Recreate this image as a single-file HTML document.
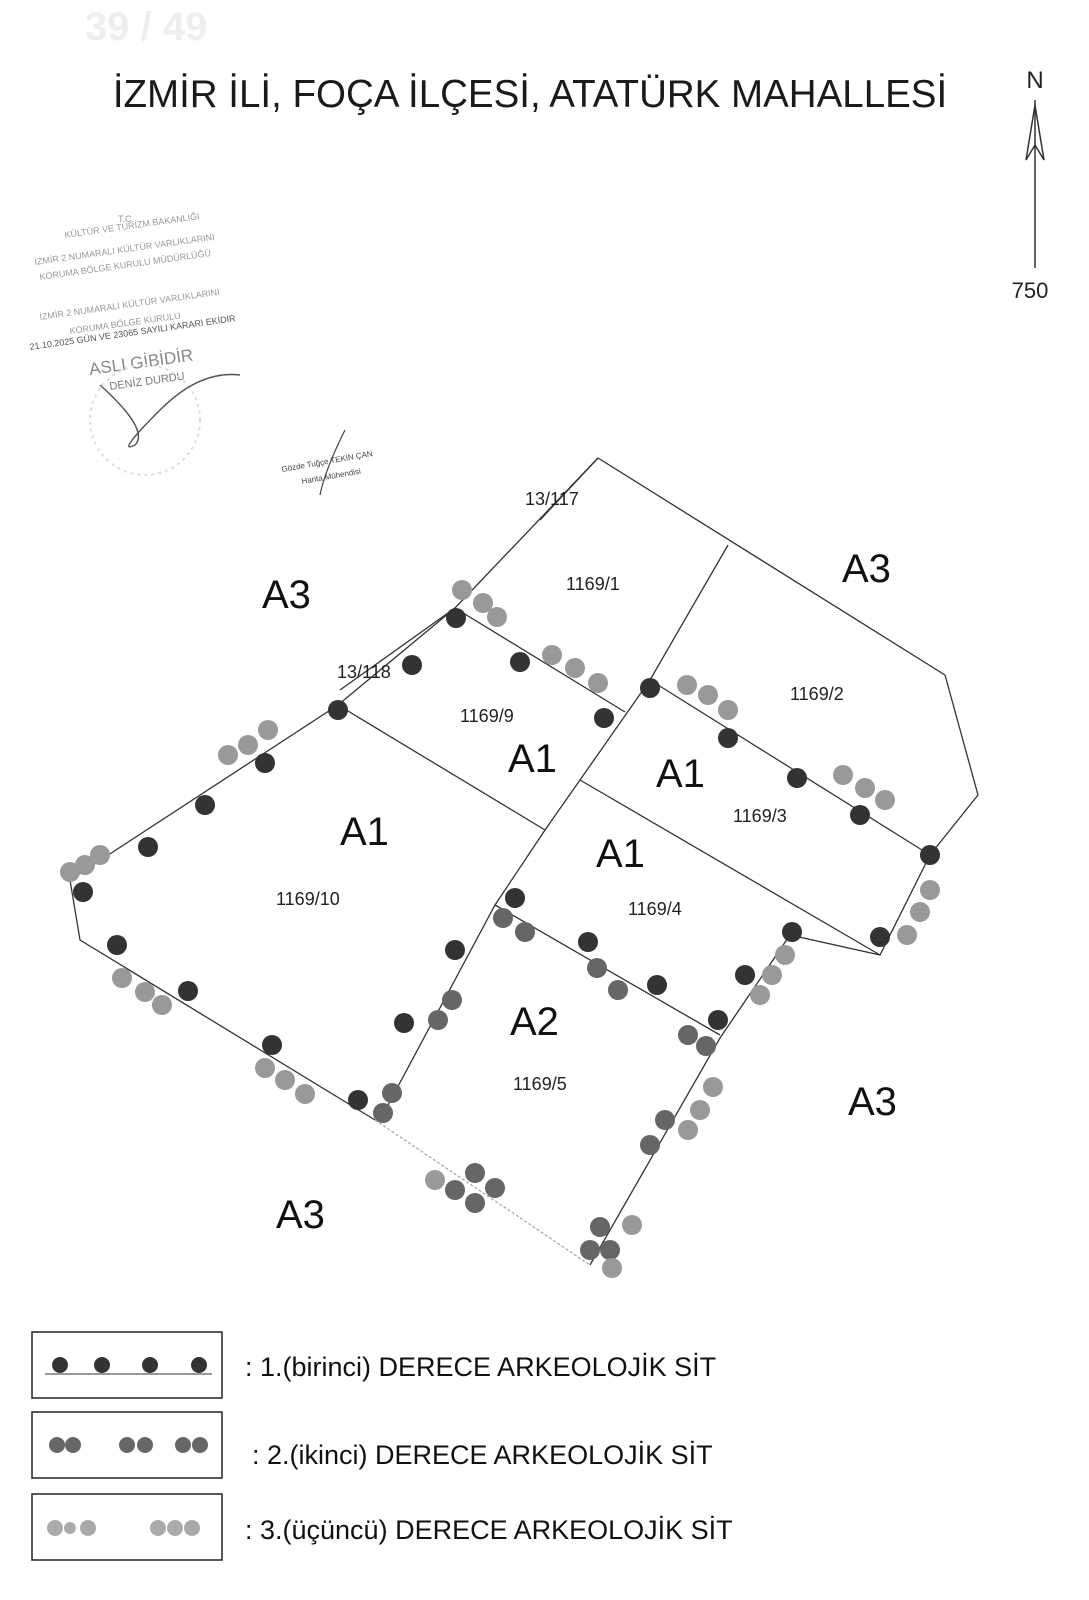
<!DOCTYPE html>
<html><head><meta charset="utf-8"><style>
html,body{margin:0;padding:0;background:#fff;}
svg{display:block;font-family:"Liberation Sans",Arial,sans-serif;}
</style></head><body>
<svg width="1089" height="1600" viewBox="0 0 1089 1600" xmlns="http://www.w3.org/2000/svg">
<rect width="1089" height="1600" fill="#fff"/>
<text x="85" y="40" font-size="40" fill="#eee" font-weight="bold">39 / 49</text>
<text x="530" y="107" font-size="38.5" text-anchor="middle" fill="#1a1a1a">İZMİR İLİ, FOÇA İLÇESİ, ATATÜRK MAHALLESİ</text>
<!-- north arrow -->
<text x="1035" y="88" font-size="24" text-anchor="middle" fill="#222">N</text>
<line x1="1035" y1="100" x2="1035" y2="268" stroke="#333" stroke-width="1.5"/>
<path d="M1035 105 L1026 160 L1035 145 L1044 160 Z" fill="none" stroke="#333" stroke-width="1.5"/>
<text x="1030" y="298" font-size="22" text-anchor="middle" fill="#222">750</text>
<!-- stamp -->
<g fill="#999" font-size="9">
<text x="118" y="222">T.C.</text>
<text x="65" y="238" transform="rotate(-8 65 238)">KÜLTÜR VE TURİZM BAKANLIĞI</text>
<text x="35" y="265" transform="rotate(-8 35 265)">İZMİR 2 NUMARALI KÜLTÜR VARLIKLARINI</text>
<text x="40" y="280" transform="rotate(-8 40 280)">KORUMA BÖLGE KURULU MÜDÜRLÜĞÜ</text>
<text x="40" y="320" transform="rotate(-8 40 320)">İZMİR 2 NUMARALI KÜLTÜR VARLIKLARINI</text>
<text x="70" y="334" transform="rotate(-8 70 334)">KORUMA BÖLGE KURULU</text>
<text x="30" y="350" fill="#555" transform="rotate(-8 30 350)">21.10.2025 GÜN VE 23065 SAYILI KARARI EKİDİR</text>
</g>
<text x="90" y="375" font-size="17" fill="#888" transform="rotate(-8 90 375)">ASLI GİBİDİR</text>
<text x="110" y="390" font-size="11" fill="#777" transform="rotate(-8 110 390)">DENİZ DURDU</text>
<circle cx="145" cy="420" r="55" fill="none" stroke="#ddd" stroke-width="2" stroke-dasharray="3 4"/>
<path d="M100 385 Q150 430 135 445 Q115 455 160 410 Q200 370 240 375" fill="none" stroke="#555" stroke-width="1.5"/>
<text x="282" y="472" font-size="8" fill="#444" transform="rotate(-10 282 472)">Gözde Tuğçe TEKİN ÇAN</text>
<text x="302" y="484" font-size="8" fill="#444" transform="rotate(-10 302 484)">Harita Mühendisi</text>
<path d="M345 430 Q325 470 320 495" fill="none" stroke="#444" stroke-width="1.2"/>
<!-- parcels -->
<g fill="none" stroke="#333" stroke-width="1.3">
<path d="M598 458 L455 608 L338 705 L70 880 L80 940 L375 1120"/>
<path d="M375 1120 L590 1265" stroke="#aaa" stroke-dasharray="3 2"/>
<path d="M590 1265 L720 1038 L790 935 L880 955 L930 855 L978 795 L945 675 L598 458"/>
<path d="M728 545 L650 680 L580 780 L545 830 L495 905 L380 1120"/>
<path d="M455 608 L625 712"/>
<path d="M338 705 L545 830"/>
<path d="M650 680 L930 855"/>
<path d="M580 780 L880 955"/>
<path d="M495 905 L720 1035"/>
<path d="M598 458 L540 520 M455 608 L340 690"/>
</g>
<g fill="#111" font-size="40">
<text x="262" y="608">A3</text><text x="842" y="582">A3</text>
<text x="848" y="1115">A3</text><text x="276" y="1228">A3</text>
<text x="508" y="772">A1</text><text x="656" y="787">A1</text>
<text x="340" y="845">A1</text><text x="596" y="867">A1</text>
<text x="510" y="1035">A2</text>
</g>
<g fill="#222" font-size="18">
<text x="525" y="505">13/117</text><text x="337" y="678">13/118</text>
<text x="566" y="590">1169/1</text><text x="790" y="700">1169/2</text>
<text x="460" y="722">1169/9</text><text x="733" y="822">1169/3</text>
<text x="276" y="905">1169/10</text><text x="628" y="915">1169/4</text>
<text x="513" y="1090">1169/5</text>
</g>
<g fill="#333">
<circle cx="456" cy="618" r="10"/><circle cx="412" cy="665" r="10"/><circle cx="520" cy="662" r="10"/><circle cx="604" cy="718" r="10"/><circle cx="338" cy="710" r="10"/><circle cx="265" cy="763" r="10"/><circle cx="205" cy="805" r="10"/><circle cx="148" cy="847" r="10"/><circle cx="83" cy="892" r="10"/><circle cx="117" cy="945" r="10"/><circle cx="188" cy="991" r="10"/><circle cx="272" cy="1045" r="10"/><circle cx="358" cy="1100" r="10"/><circle cx="404" cy="1023" r="10"/><circle cx="455" cy="950" r="10"/><circle cx="515" cy="898" r="10"/><circle cx="650" cy="688" r="10"/><circle cx="728" cy="738" r="10"/><circle cx="797" cy="778" r="10"/><circle cx="860" cy="815" r="10"/><circle cx="930" cy="855" r="10"/><circle cx="880" cy="937" r="10"/><circle cx="792" cy="932" r="10"/><circle cx="745" cy="975" r="10"/><circle cx="718" cy="1020" r="10"/><circle cx="657" cy="985" r="10"/><circle cx="588" cy="942" r="10"/>
</g>
<g fill="#666">
<circle cx="503" cy="918" r="10"/><circle cx="525" cy="932" r="10"/><circle cx="597" cy="968" r="10"/><circle cx="618" cy="990" r="10"/><circle cx="688" cy="1035" r="10"/><circle cx="706" cy="1046" r="10"/><circle cx="383" cy="1113" r="10"/><circle cx="392" cy="1093" r="10"/><circle cx="438" cy="1020" r="10"/><circle cx="452" cy="1000" r="10"/><circle cx="600" cy="1227" r="10"/><circle cx="590" cy="1250" r="10"/><circle cx="610" cy="1250" r="10"/><circle cx="475" cy="1173" r="10"/><circle cx="495" cy="1188" r="10"/><circle cx="475" cy="1203" r="10"/><circle cx="455" cy="1190" r="10"/><circle cx="665" cy="1120" r="10"/><circle cx="650" cy="1145" r="10"/>
</g>
<g fill="#999">
<circle cx="462" cy="590" r="10"/><circle cx="483" cy="603" r="10"/><circle cx="497" cy="617" r="10"/><circle cx="552" cy="655" r="10"/><circle cx="575" cy="668" r="10"/><circle cx="598" cy="683" r="10"/><circle cx="687" cy="685" r="10"/><circle cx="708" cy="695" r="10"/><circle cx="728" cy="710" r="10"/><circle cx="843" cy="775" r="10"/><circle cx="865" cy="788" r="10"/><circle cx="885" cy="800" r="10"/><circle cx="268" cy="730" r="10"/><circle cx="248" cy="745" r="10"/><circle cx="228" cy="755" r="10"/><circle cx="100" cy="855" r="10"/><circle cx="85" cy="865" r="10"/><circle cx="70" cy="872" r="10"/><circle cx="122" cy="978" r="10"/><circle cx="145" cy="992" r="10"/><circle cx="162" cy="1005" r="10"/><circle cx="265" cy="1068" r="10"/><circle cx="285" cy="1080" r="10"/><circle cx="305" cy="1094" r="10"/><circle cx="930" cy="890" r="10"/><circle cx="920" cy="912" r="10"/><circle cx="907" cy="935" r="10"/><circle cx="785" cy="955" r="10"/><circle cx="772" cy="975" r="10"/><circle cx="760" cy="995" r="10"/><circle cx="713" cy="1087" r="10"/><circle cx="700" cy="1110" r="10"/><circle cx="688" cy="1130" r="10"/><circle cx="435" cy="1180" r="10"/><circle cx="632" cy="1225" r="10"/><circle cx="612" cy="1268" r="10"/>
</g>
<!-- legend -->
<g fill="none" stroke="#222" stroke-width="1.5">
<rect x="32" y="1332" width="190" height="66"/>
<rect x="32" y="1412" width="190" height="66"/>
<rect x="32" y="1494" width="190" height="66"/>
</g>
<line x1="45" y1="1374" x2="212" y2="1374" stroke="#333"/>
<g fill="#333"><circle cx="60" cy="1365" r="8"/><circle cx="102" cy="1365" r="8"/><circle cx="150" cy="1365" r="8"/><circle cx="199" cy="1365" r="8"/></g>
<g fill="#666"><circle cx="57" cy="1445" r="8"/><circle cx="73" cy="1445" r="8"/><circle cx="127" cy="1445" r="8"/><circle cx="145" cy="1445" r="8"/><circle cx="183" cy="1445" r="8"/><circle cx="200" cy="1445" r="8"/></g>
<g fill="#aaa"><circle cx="55" cy="1528" r="8"/><circle cx="70" cy="1528" r="6"/><circle cx="88" cy="1528" r="8"/><circle cx="158" cy="1528" r="8"/><circle cx="175" cy="1528" r="8"/><circle cx="192" cy="1528" r="8"/></g>
<g fill="#111" font-size="27">
<text x="245" y="1376">: 1.(birinci) DERECE ARKEOLOJİK SİT</text>
<text x="252" y="1464">: 2.(ikinci) DERECE ARKEOLOJİK SİT</text>
<text x="245" y="1539">: 3.(üçüncü) DERECE ARKEOLOJİK SİT</text>
</g>
</svg>
</body></html>
